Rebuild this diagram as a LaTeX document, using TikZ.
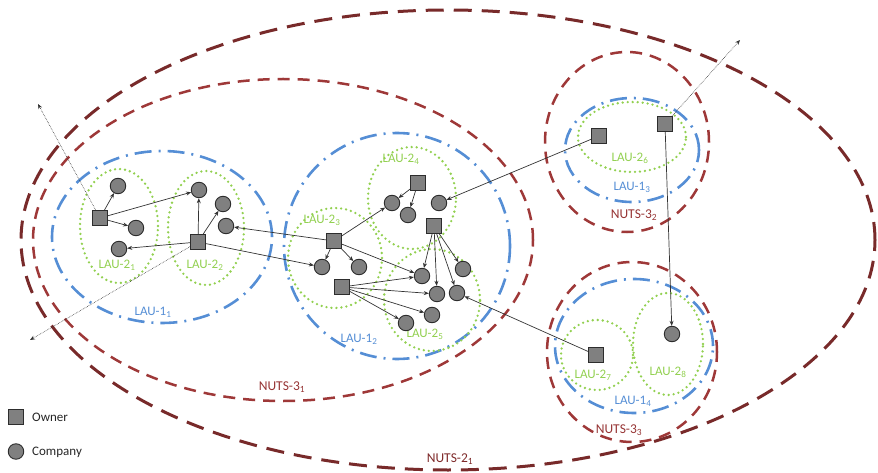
\documentclass[tikz,border=0pt]{standalone}
\usepackage{fontspec}
\setmainfont{Carlito}
\usetikzlibrary{arrows.meta}
\definecolor{nutstwo}{RGB}{120,42,42}
\definecolor{nutsthree}{RGB}{158,56,56}
\definecolor{laublue}{RGB}{85,142,213}
\definecolor{laugreen}{RGB}{146,208,80}
\definecolor{nodefill}{RGB}{128,128,128}
\definecolor{nodeedge}{RGB}{45,45,45}
\definecolor{nutslabel}{RGB}{150,52,52}
\definecolor{nutstwolabel}{RGB}{125,40,40}
\begin{document}
\begin{tikzpicture}[x=1pt,y=-1pt,
 nutsTwo/.style={draw=nutstwo, line width=3pt, dash pattern=on 18pt off 10pt},
 nutsThree/.style={draw=nutsthree, line width=2.5pt, dash pattern=on 12pt off 8pt},
 lauOne/.style={draw=laublue, line width=2.6pt, dash pattern=on 17pt off 7pt on 2pt off 7pt},
 lauTwo/.style={draw=laugreen, line width=2.6pt, dash pattern=on 0pt off 5pt, line cap=round},
 owner/.style={rectangle, minimum size=15pt, inner sep=0pt, fill=nodefill, draw=nodeedge, line width=0.9pt},
 company/.style={circle, minimum size=15.5pt, inner sep=0pt, fill=nodefill, draw=nodeedge, line width=0.9pt},
 link/.style={draw=black!80, line width=0.7pt, -{Stealth[length=5pt,width=4pt]}},
 outlink/.style={draw=black!80, line width=0.6pt, densely dotted, -{Stealth[length=5pt,width=4pt]}},
 lbl/.style={font=\fontsize{13}{15}\selectfont, inner sep=0pt},
 greenlbl/.style={lbl, text=laugreen},
 bluelbl/.style={lbl, text=laublue},
 redlbl/.style={font=\fontsize{13.5}{15}\selectfont, inner sep=0pt, text=nutslabel},
 legendtxt/.style={font=\fontsize{13}{15}\selectfont, inner sep=0pt, text=black!85}
]
\useasboundingbox (0,0) rectangle (878,473);
% regions
\draw[nutsTwo] (448,240) ellipse [x radius=427pt, y radius=230pt];
\draw[nutsThree] (283,240) ellipse [x radius=250pt, y radius=161pt];
\draw[nutsThree] (627,142) ellipse [x radius=82pt, y radius=90pt];
\draw[nutsThree] (632,352) ellipse [x radius=85pt, y radius=90pt];
\draw[lauOne] (162,237) ellipse [x radius=110pt, y radius=86pt];
\draw[lauOne] (397,246) ellipse [x radius=113pt, y radius=113pt];
\draw[lauOne] (632,150) ellipse [x radius=67pt, y radius=52pt];
\draw[lauOne] (634,346) ellipse [x radius=79pt, y radius=67pt];
\draw[lauTwo] (119,226) ellipse [x radius=39pt, y radius=57pt];
\draw[lauTwo] (206,228) ellipse [x radius=38pt, y radius=57pt];
\draw[lauTwo] (335,258) ellipse [x radius=47pt, y radius=50pt];
\draw[lauTwo] (412,198) ellipse [x radius=44pt, y radius=51pt];
\draw[lauTwo] (432,300) ellipse [x radius=48pt, y radius=51pt];
\draw[lauTwo] (632,137) ellipse [x radius=54pt, y radius=35pt];
\draw[lauTwo] (597,355) ellipse [x radius=36pt, y radius=35pt];
\draw[lauTwo] (668,344) ellipse [x radius=35pt, y radius=51pt];
% labels
\node[greenlbl] (l21) at (117,265) {LAU-2\textsubscript{1}};
\node[greenlbl] (l22) at (205,265) {LAU-2\textsubscript{2}};
\node[bluelbl] (l11) at (153,312) {LAU-1\textsubscript{1}};
\node[greenlbl] (l23) at (322,220) {LAU-2\textsubscript{3}};
\node[greenlbl] (l24) at (401,159) {LAU-2\textsubscript{4}};
\node[bluelbl] (l12) at (359,339) {LAU-1\textsubscript{2}};
\node[greenlbl] (l25) at (425,334) {LAU-2\textsubscript{5}};
\node[greenlbl] (l26) at (630,158) {LAU-2\textsubscript{6}};
\node[bluelbl] (l13) at (632,187) {LAU-1\textsubscript{3}};
\node[redlbl] (n32) at (634,215) {NUTS-3\textsubscript{2}};
\node[greenlbl] (l27) at (593,375) {LAU-2\textsubscript{7}};
\node[greenlbl] (l28) at (668,372) {LAU-2\textsubscript{8}};
\node[bluelbl] (l14) at (633,401) {LAU-1\textsubscript{4}};
\node[redlbl] (n33) at (619,430) {NUTS-3\textsubscript{3}};
\node[redlbl] (n31) at (282,387) {NUTS-3\textsubscript{1}};
\node[redlbl, text=nutstwolabel] (n21) at (450,459) {NUTS-2\textsubscript{1}};
% nodes
\node[owner] (o1) at (100,218) {};
\node[company] (c1) at (118,186) {};
\node[company] (c2) at (136,228) {};
\node[company] (c3) at (119,249) {};
\node[owner] (o2) at (198,242) {};
\node[company] (c4) at (199,190) {};
\node[company] (c5) at (223,204) {};
\node[company] (c6) at (226,226) {};
\node[owner] (o3) at (334,241) {};
\node[company] (c7) at (322,267) {};
\node[company] (c8) at (359,267) {};
\node[owner] (o4) at (342,287) {};
\node[owner] (o5) at (418,183) {};
\node[company] (c9) at (392,203) {};
\node[company] (c10) at (408,215) {};
\node[company] (c11) at (439,203) {};
\node[owner] (o6) at (434,226) {};
\node[company] (c12) at (422,276) {};
\node[company] (c13) at (463,269) {};
\node[company] (c14) at (437,294) {};
\node[company] (c15) at (457,293) {};
\node[company] (c16) at (432,315) {};
\node[company] (c17) at (406,323) {};
\node[owner] (o7) at (599,136) {};
\node[owner] (o8) at (665,124) {};
\node[owner] (o9) at (596,355) {};
\node[company] (c18) at (672,334) {};
% free ends
\coordinate (e1) at (38,104);
\coordinate (e2) at (30,340);
\coordinate (e3) at (740,40);
% links
\draw[link] (o1) -- (c1);
\draw[link] (o1) -- (c2);
\draw[link] (o1) -- (c4);
\draw[link] (o2) -- (c3);
\draw[link] (o2) -- (c4);
\draw[link] (o2) -- (c5);
\draw[link] (o2) -- (c7);
\draw[link] (o3) -- (c6);
\draw[link] (o3) -- (c7);
\draw[link] (o3) -- (c8);
\draw[link] (o3) -- (c9);
\draw[link] (o3) -- (c12);
\draw[link] (o5) -- (c9);
\draw[link] (o5) -- (c10);
\draw[link] (o6) -- (c12);
\draw[link] (o6) -- (c14);
\draw[link] (o6) -- (c15);
\draw[link] (o6) -- (c13);
\draw[link] (o4) -- (c12);
\draw[link] (o4) -- (c14);
\draw[link] (o4) -- (c16);
\draw[link] (o4) -- (c17);
\draw[link] (o7) -- (c11);
\draw[link] (o8) -- (c18);
\draw[link] (o9) -- (c15);
\draw[outlink] (o1) -- (e1);
\draw[outlink] (o2) -- (e2);
\draw[outlink] (o8) -- (e3);
% legend
\node[owner] (lego) at (15.5,416.5) {};
\node[company] (legc) at (16,451.5) {};
\node[legendtxt, anchor=base west] (lego-t) at (32,421) {Owner};
\node[legendtxt, anchor=base west] (legc-t) at (32,455) {Company};
\end{tikzpicture}
\end{document}
